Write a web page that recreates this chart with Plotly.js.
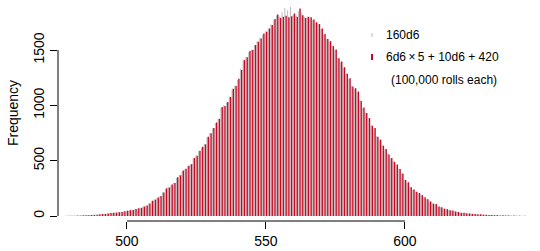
<!DOCTYPE html>
<html>
<head>
<meta charset="utf-8">
<script src="https://cdn.plot.ly/plotly-3.0.1.min.js"></script>
<style>html,body{margin:0;padding:0;background:#fff;}#chart{width:540px;height:251px;}</style>
</head>
<body>
<div id="chart"></div>
<script>
// Roll totals (x values) shared by both series
var firstTotal = 478;
// Frequencies of 160d6, one per total starting at 478
var freq160d6 = [
  2,2,3,3,4,5,5,6,8,9,11,13,15,17,20,23,26,28,30,33,38,43,
  47,52,56,62,67,75,85,97,115,135,150,165,178,215,245,262,280,300,345,372,405,425,450,470,520,548,585,620,650,712,752,790,840,880,975,1000,1025,1080,1140,1180,1230,1330,1405,1440,1480,1505,1540,1580,1610,1640,
  1670,1690,1730,1770,1815,1800,1840,1880,1860,1890,1820,1810,1850,1830,1800,1795,1800,1770,1745,1730,1690,1640,1605,1575,1540,1500,1430,1390,1340,1290,1240,1175,1150,1120,1045,975,935,880,820,790,720,685,640,600,560,520,495,460,430,380,
  330,300,265,238,220,205,190,168,155,130,115,105,88,78,68,60,54,48,42,36,32,28,25,22,20,18,16,14,13,11,10,9,8,7,6,5,5,4,4,3,3,2,2,2,1,1
];
// Frequencies of 6d6x5 + 10d6 + 420, one per total starting at 478
var freqMixed = [
  1,2,2,3,4,4,6,7,7,9,10,12,16,18,19,22,27,29,31,34,36,42,
  48,53,55,63,70,74,86,95,112,138,148,168,180,212,250,258,285,298,350,368,410,428,455,468,525,545,590,625,648,715,748,795,845,878,985,995,1030,1075,1150,1175,1240,1320,1410,1435,1490,1500,1545,1575,1605,1650,
  1665,1695,1725,1780,1820,1790,1800,1810,1795,1805,1830,1800,1875,1815,1790,1800,1795,1775,1750,1735,1695,1645,1600,1580,1535,1505,1425,1395,1345,1285,1245,1170,1155,1125,1040,980,930,885,815,795,715,690,635,605,555,525,490,465,425,385,
  325,305,260,240,218,208,188,170,152,132,112,108,86,80,66,62,52,50,40,37,30,29,24,23,19,18,15,15,12,12,9,10,7,8,5,6,4,5,3,4,2,3,1,2,1,1
];
var seriesNames = ['160d6', '6d6\u2009\u00d7\u20095 + 10d6 + 420'];
var noteText = '(100,000 rolls each)';
var xTicks = [500, 550, 600];
var yTicks = [0, 500, 1000, 1500];

var totals = freq160d6.map(function(_, i){ return firstTotal + i; });

var grayCol = '#b8b8b8';
var redCol = '#c10a24';
var FONT = '"Liberation Sans", Arial, sans-serif';

var traces = [
  {type:'bar', x: totals, y: freq160d6, name: seriesNames[0], marker:{color: grayCol, line:{width:0}},
   width: 0.34, offset: -0.36, showlegend:false, hoverinfo:'x+y+name'},
  {type:'bar', x: totals, y: freqMixed, name: seriesNames[1], marker:{color: redCol, line:{width:0}},
   width: 0.5, offset: 0.02, showlegend:false, hoverinfo:'x+y+name'}
];

var layout = {
  width: 540, height: 251,
  margin: {l:58, r:0, t:5, b:30, pad:0},
  paper_bgcolor:'#fff', plot_bgcolor:'#fff',
  barmode:'overlay',
  font:{family: FONT, color:'#000', size:14},
  xaxis:{range:[475.2, 648.6], showgrid:false, zeroline:false, showline:false,
    tickmode:'array', tickvals: xTicks, ticks:'outside', ticklen:7, tickwidth:1, tickcolor:'#000',
    tickfont:{size:14, family:FONT, color:'#000'}},
  yaxis:{range:[-45.2, 1906.6], showgrid:false, zeroline:false, showline:false,
    tickmode:'array', tickvals: yTicks, ticks:'outside', ticklen:7, tickwidth:1, tickcolor:'#000',
    tickangle:-90, tickfont:{size:14, family:FONT, color:'#000'},
    title:{text:'Frequency', font:{size:14, family:FONT, color:'#000'}, standoff:9}},
  shapes:[
    {type:'line', xref:'x', yref:'paper', x0:xTicks[0], x1:xTicks[xTicks.length-1], y0:0, y1:0, line:{color:'#000', width:1}},
    {type:'line', xref:'paper', yref:'y', x0:0, x1:0, y0:yTicks[0], y1:yTicks[yTicks.length-1], line:{color:'#000', width:1}},
    {type:'line', xref:'paper', yref:'paper', x0:(372-58)/482, x1:(372-58)/482, y0:(221-33)/216, y1:(221-37)/216, line:{color:grayCol, width:1}},
    {type:'line', xref:'paper', yref:'paper', x0:(372-58)/482, x1:(372-58)/482, y0:(221-54)/216, y1:(221-60)/216, line:{color:redCol, width:2}}
  ],
  annotations:[
    {xref:'paper', yref:'paper', x:(384-58)/482, y:(221-35)/216, xanchor:'left', yanchor:'middle', showarrow:false,
     text: seriesNames[0], font:{size:12, family:FONT, color:'#000'}},
    {xref:'paper', yref:'paper', x:(384-58)/482, y:(221-57)/216, xanchor:'left', yanchor:'middle', showarrow:false,
     text: seriesNames[1], font:{size:12, family:FONT, color:'#000'}},
    {xref:'paper', yref:'paper', x:(389-58)/482, y:(221-80)/216, xanchor:'left', yanchor:'middle', showarrow:false,
     text: noteText, font:{size:12, family:FONT, color:'#000'}}
  ]
};

Plotly.newPlot('chart', traces, layout, {displayModeBar:false, staticPlot:true});
</script>
</body>
</html>
